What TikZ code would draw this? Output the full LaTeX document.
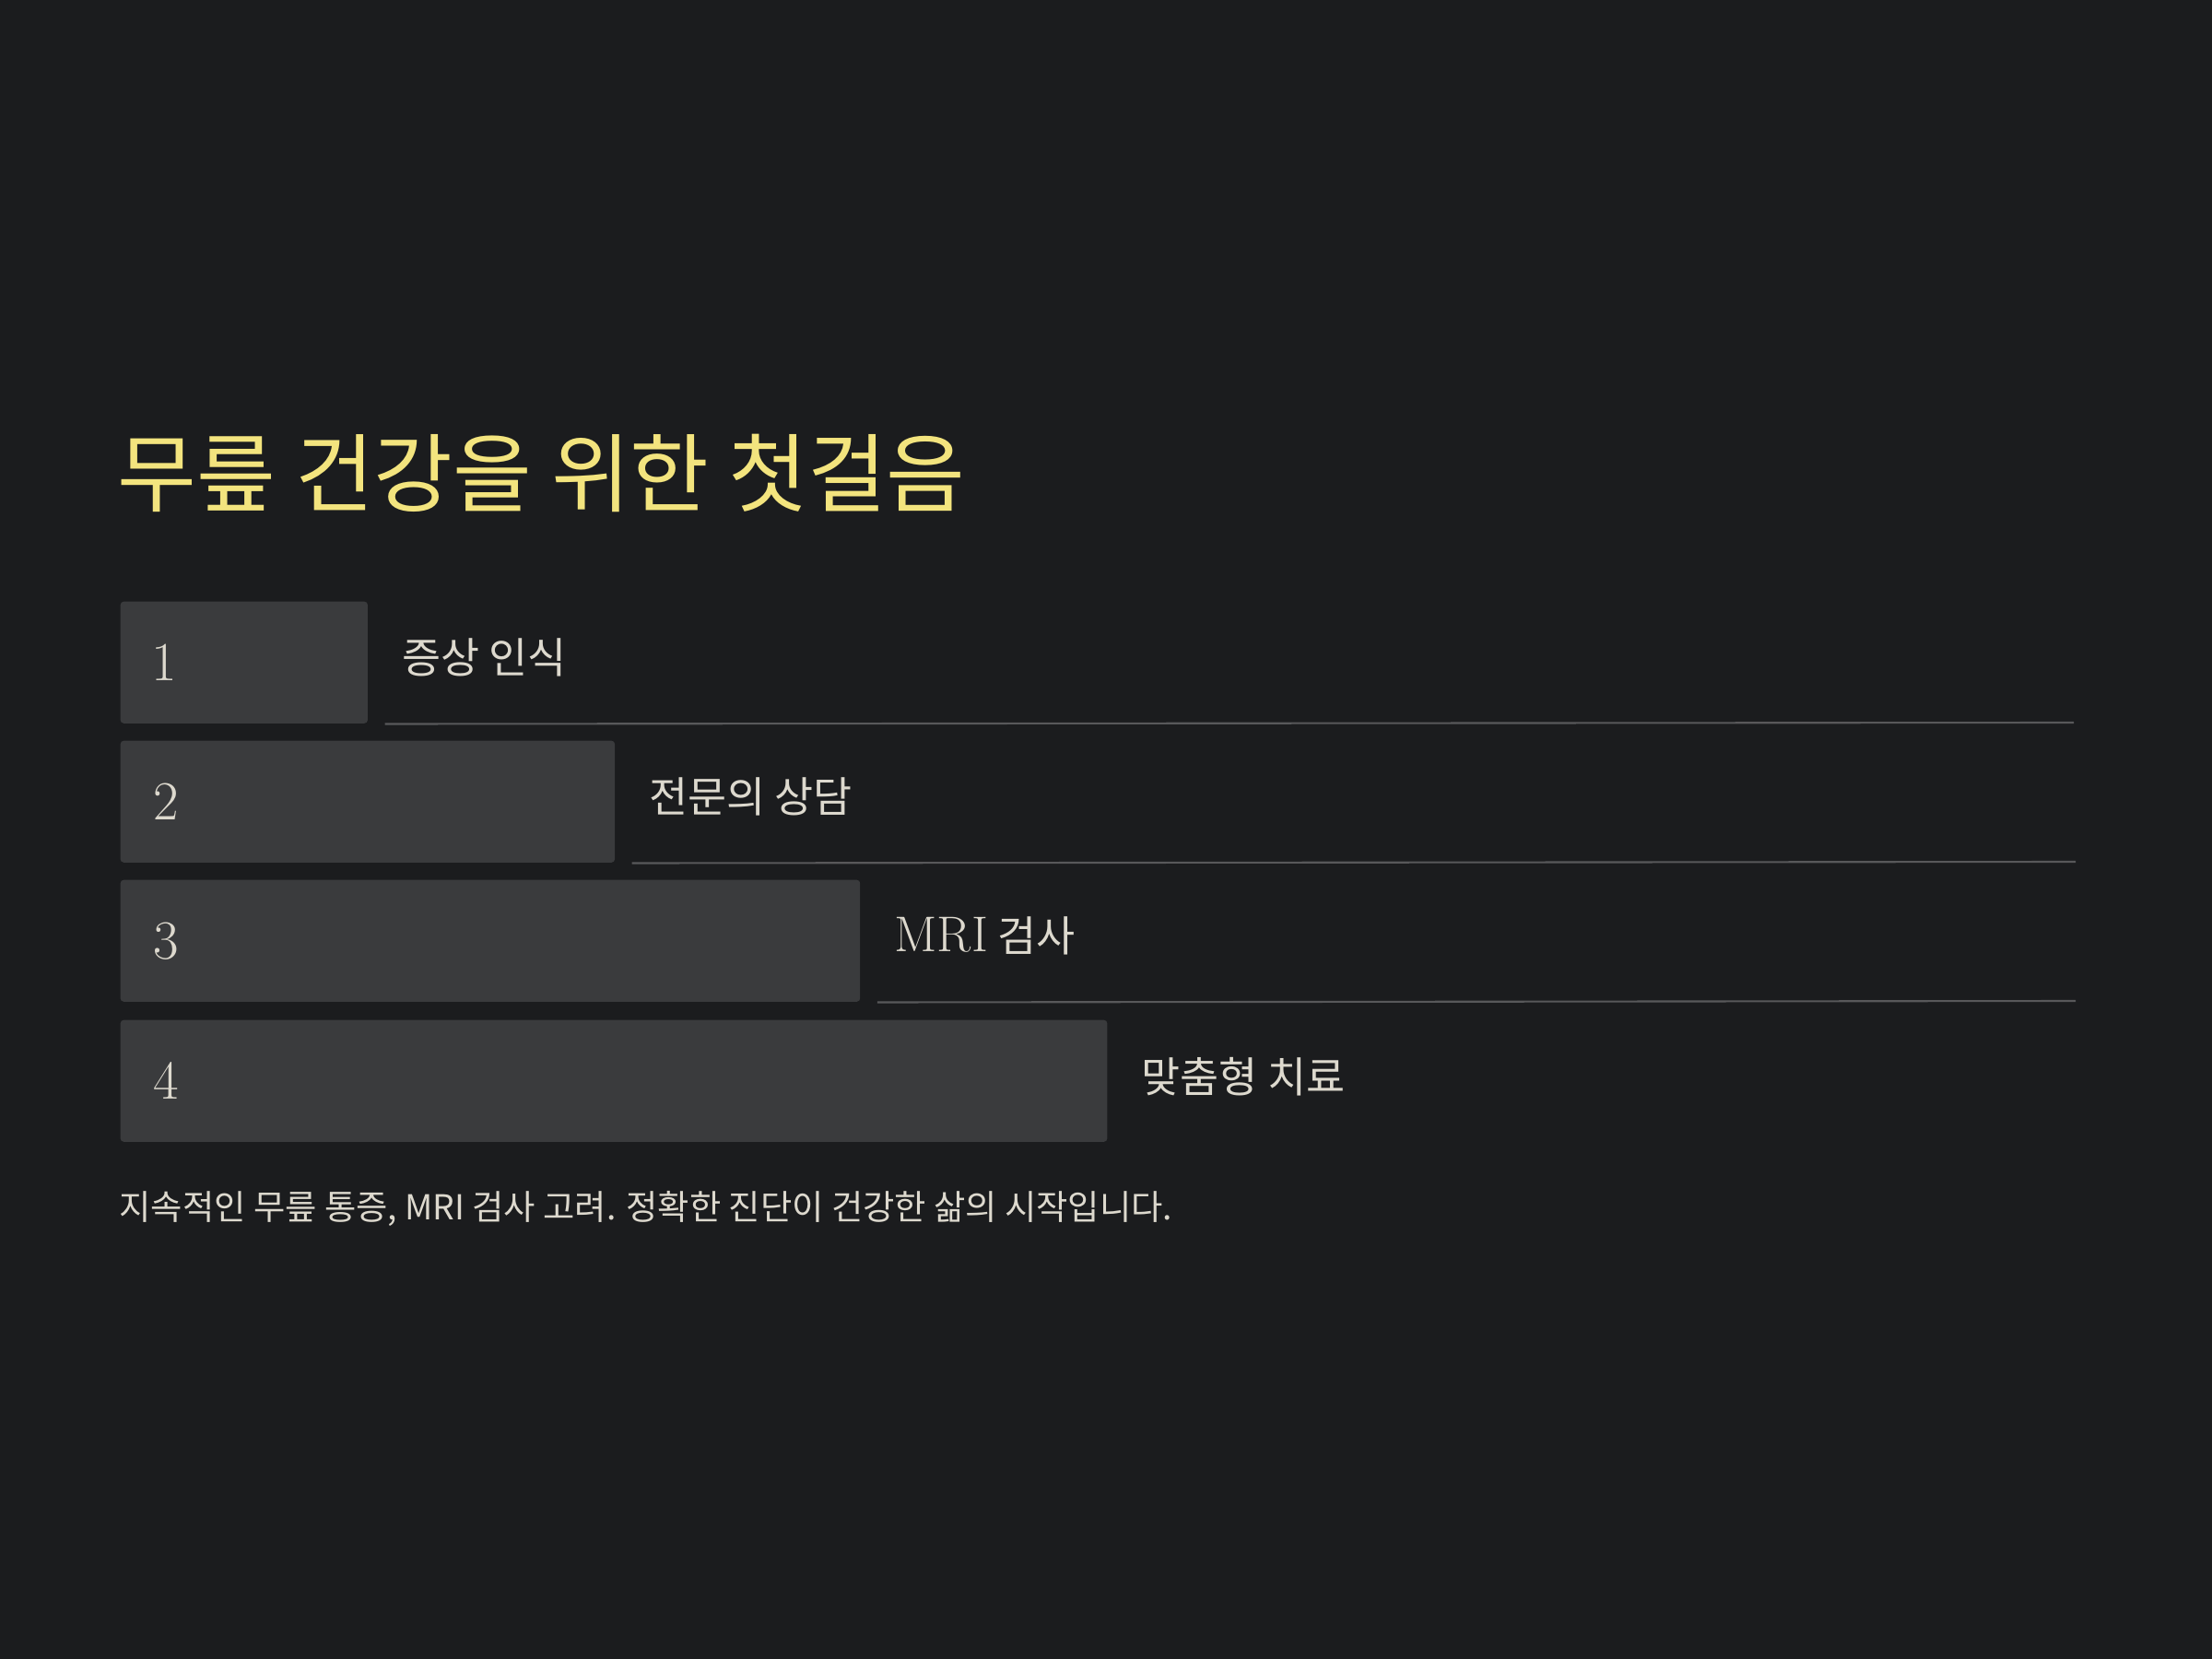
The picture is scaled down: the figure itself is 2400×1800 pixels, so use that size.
\documentclass[tikz,border=0pt]{standalone}
\usepackage{fontspec}
\newfontfamily\cjk{Noto Sans CJK KR}
\usetikzlibrary{positioning}
\definecolor{bgdark}{RGB}{27,28,30}
\definecolor{boxgray}{RGB}{58,59,61}
\definecolor{titleyellow}{RGB}{243,228,126}
\definecolor{paletext}{RGB}{221,217,206}
\definecolor{rulegray}{RGB}{88,88,90}

\begin{document}
\begin{tikzpicture}[x=0.01cm,y=-0.01cm,
	stepbox/.style={fill=boxgray,rounded corners=1pt,minimum height=1.32cm,anchor=north west,inner sep=0pt},
	num/.style={text=paletext,font=\fontsize{17}{20}\selectfont,anchor=west,inner sep=0pt},
	lbl/.style={text=paletext,font=\cjk\fontsize{13}{16}\selectfont,inner sep=0pt,yshift=1.4pt},
	sep/.style={draw=rulegray,line width=0.6pt}]
	\fill[bgdark] (0,0) rectangle (2400,1800);
	\useasboundingbox (0,0) rectangle (2400,1800);
	
	\node[text=titleyellow,font=\cjk\fontsize{26.5}{32}\selectfont,anchor=west,inner sep=0pt] (title) at (127,513) {무릎 건강을 위한 첫걸음};
	
	\node[stepbox,minimum width=2.68cm] (b1) at (130,652) {};
	\node[stepbox,minimum width=5.36cm] (b2) at (130,803) {};
	\node[stepbox,minimum width=8.02cm] (b3) at (130,954) {};
	\node[stepbox,minimum width=10.70cm] (b4) at (130,1106) {};
	
	\node[num] (n1) at ([xshift=0.34cm]b1.west) {1};
	\node[num] (n2) at ([xshift=0.36cm]b2.west) {2};
	\node[num] (n3) at ([xshift=0.36cm]b3.west) {3};
	\node[num] (n4) at ([xshift=0.36cm]b4.west) {4};
	
	\node[lbl,right=0.36cm of b1] (l1) {증상 인식};
	\node[lbl,right=0.36cm of b2] (l2) {전문의 상담};
	\node[lbl,right=0.36cm of b3] (l3) {{\rmfamily\fontsize{15.5}{18}\selectfont MRI} 검사};
	\node[lbl,right=0.36cm of b4] (l4) {맞춤형 치료};
	
	\coordinate (e1) at (2250,784);
	\coordinate (e2) at (2252,935);
	\coordinate (e3) at (2252,1086);
	\draw[sep] ([xshift=0.18cm]b1.south east) -- (e1);
	\draw[sep] ([xshift=0.18cm]b2.south east) -- (e2);
	\draw[sep] ([xshift=0.18cm]b3.south east) -- (e3);
	
	\node[text=paletext,font=\cjk\fontsize{10.6}{13}\selectfont,anchor=west,inner sep=0pt] (foot) at (129,1311) {지속적인 무릎 통증, MRI 검사 고려. 정확한 진단이 건강한 삶의 시작입니다.};
\end{tikzpicture}
\end{document}
